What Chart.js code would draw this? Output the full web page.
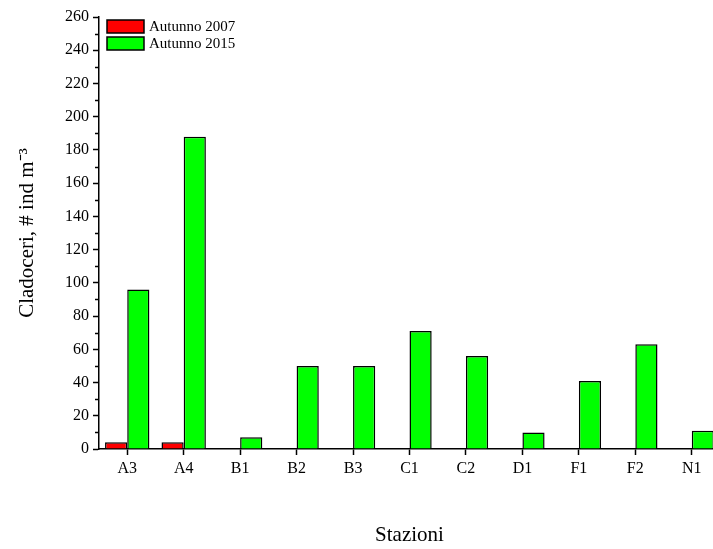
<!DOCTYPE html>
<html>
<head>
<meta charset="utf-8">
<script src="https://cdn.jsdelivr.net/npm/chart.js@4/dist/chart.umd.min.js"></script>
<style>
  body { margin: 0; overflow: hidden; background: #fff; }
  #wrap { width: 720px; height: 549px; }
</style>
</head>
<body>
<div id="wrap"><canvas id="myChart" width="720" height="549"></canvas></div>
<script>
// stazioni e valori
const stazioni = ['A3', 'A4', 'B1', 'B2', 'B3', 'C1', 'C2', 'D1', 'F1', 'F2', 'N1'];
const autunno2007 = [4, 4, 0, 0, 0, 0, 0, 0, 0, 0, 0];
const autunno2015 = [96, 188, 7, 50, 50, 71, 56, 10, 41, 63, 11];
const yMax = 260;

const serif = '"Liberation Serif", "Times New Roman", serif';

// tacche minori sull'asse y (ogni 10)
const minorTicks = {
  id: 'minorTicks',
  afterDraw(chart) {
    const y = chart.scales.y, ctx = chart.ctx;
    ctx.save();
    ctx.strokeStyle = '#000';
    ctx.lineWidth = 1.5;
    for (let v = 10; v < yMax; v += 20) {
      const py = Math.round(y.getPixelForValue(v)) + 0.5;
      ctx.beginPath();
      ctx.moveTo(chart.chartArea.left, py);
      ctx.lineTo(chart.chartArea.left - 4, py);
      ctx.stroke();
    }
    ctx.restore();
  }
};

// legenda dentro l'area del grafico, in alto a sinistra
const boxLegend = {
  id: 'boxLegend',
  afterDraw(chart) {
    const ctx = chart.ctx, a = chart.chartArea;
    ctx.save();
    chart.data.datasets.forEach((ds, i) => {
      const x = a.left + 8, y = a.top + 3 + i * 17;
      ctx.fillStyle = ds.backgroundColor;
      ctx.fillRect(x, y, 37, 13);
      ctx.strokeStyle = '#000';
      ctx.lineWidth = 1.5;
      ctx.strokeRect(x, y, 37, 13);
      ctx.fillStyle = '#000';
      ctx.font = '15px ' + serif;
      ctx.textBaseline = 'middle';
      ctx.fillText(ds.label, x + 42, y + 7);
    });
    ctx.restore();
  }
};

let myChart = document.getElementById('myChart').getContext('2d');

let cladoChart = new Chart(myChart, {
  type: 'bar',
  data: {
    labels: stazioni,
    datasets: [{
      label: 'Autunno 2007',
      data: autunno2007,
      backgroundColor: '#ff0000',
      borderColor: '#000',
      borderWidth: 1.5,
      borderSkipped: 'bottom'
    }, {
      label: 'Autunno 2015',
      data: autunno2015,
      backgroundColor: '#00ff00',
      borderColor: '#000',
      borderWidth: 1.5,
      borderSkipped: 'bottom'
    }]
  },
  options: {
    responsive: false,
    animation: false,
    layout: { padding: { top: 17, right: 0, left: 0, bottom: 0 } },
    datasets: { bar: { categoryPercentage: 0.786, barPercentage: 1.0 } },
    plugins: {
      legend: { display: false },
      tooltip: { enabled: false }
    },
    scales: {
      x: {
        offset: true,
        grid: {
          offset: false,
          drawOnChartArea: false,
          drawTicks: true,
          tickLength: 6,
          tickWidth: 1.5,
          tickColor: '#000'
        },
        border: { color: '#000', width: 1.5 },
        ticks: { color: '#000', font: { family: serif, size: 16 }, padding: 4, maxRotation: 0 },
        title: {
          display: true,
          text: 'Stazioni',
          color: '#000',
          font: { family: serif, size: 21 },
          padding: { top: 0, bottom: 1 }
        },
        afterFit(scale) { scale.height = 100; }
      },
      y: {
        min: 0,
        max: yMax,
        ticks: {
          stepSize: 20,
          color: '#000',
          font: { family: serif, size: 16 },
          padding: 4
        },
        grid: {
          drawOnChartArea: false,
          tickLength: 6,
          tickWidth: 1.5,
          tickColor: '#000'
        },
        border: { color: '#000', width: 1.5 },
        title: {
          display: true,
          text: 'Cladoceri, # ind m\u207B\u00B3',
          color: '#000',
          font: { family: serif, size: 21 },
          padding: { top: 15, bottom: 0 }
        },
        afterFit(scale) { scale.width = 99; }
      }
    }
  },
  plugins: [minorTicks, boxLegend]
});
</script>
</body>
</html>
